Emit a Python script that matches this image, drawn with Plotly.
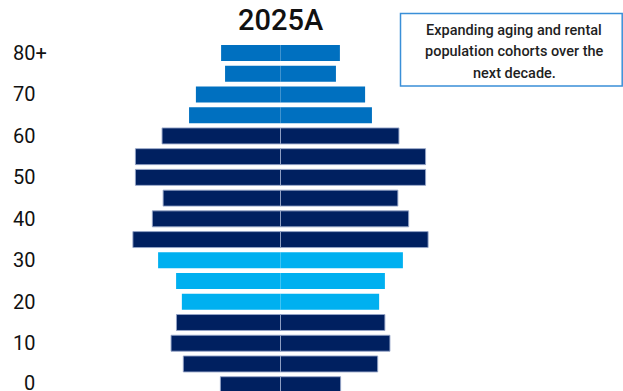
import plotly.graph_objects as go

# Age groups (index 0 = 0-4 ... 16 = 80+)
age_groups = ["0-4", "5-9", "10-14", "15-19", "20-24", "25-29", "30-34", "35-39",
              "40-44", "45-49", "50-54", "55-59", "60-64", "65-69", "70-74", "75-79", "80+"]
# Share of population (%) by side
left_values = [1.67, 2.70, 3.04, 2.89, 2.74, 2.90, 3.40, 4.10, 3.56, 3.26,
               4.03, 4.03, 3.29, 2.54, 2.35, 1.54, 1.65]
right_values = [1.67, 2.70, 3.04, 2.90, 2.74, 2.90, 3.40, 4.10, 3.56, 3.26,
                4.03, 4.03, 3.29, 2.54, 2.35, 1.54, 1.65]
# Cohort grouping for colour
cohort = ["core", "core", "core", "core", "rental", "rental", "rental", "core",
          "core", "core", "core", "core", "core", "aging", "aging", "aging", "aging"]
tick_positions = [0, 2, 4, 6, 8, 10, 12, 14, 16]
tick_labels = ["0", "10", "20", "30", "40", "50", "60", "70", "80+"]
title_text = "2025A"
note_lines = ["Expanding aging and rental", "population cohorts over the", "next decade."]

colors = {"core": "#002060", "rental": "#00B0F0", "aging": "#0070C0"}
bar_colors = [colors[c] for c in cohort]
line_widths = [1 if c == "core" else 0 for c in cohort]

ypos = list(range(len(age_groups)))

W, H = 623, 391
L, R, T, B = 60, 0, 35, 0
plot_w = W - L - R
plot_h = H - T - B
px_per_unit = 36.0
center_px = 280.5
x_min = -(center_px - L) / px_per_unit
x_max = (W - R - center_px) / px_per_unit


def px_x(px):
    return (px - L) / plot_w


def px_y(py):
    return (H - B - py) / plot_h


fig = go.Figure()
for vals, sign in ((left_values, -1), (right_values, 1)):
    fig.add_trace(go.Bar(
        y=ypos, x=[sign * v for v in vals], orientation="h",
        marker=dict(color=bar_colors,
                    line=dict(color="rgba(150,165,200,0.9)", width=line_widths)),
        showlegend=False, hoverinfo="skip",
    ))

fig.update_layout(
    width=W, height=H,
    margin=dict(l=L, r=R, t=T, b=B, pad=0),
    barmode="relative", bargap=0.23,
    plot_bgcolor="white", paper_bgcolor="white",
    xaxis=dict(range=[x_min, x_max], visible=False, fixedrange=True),
    yaxis=dict(range=[-0.304, 16.868], showticklabels=False, showgrid=False,
               zeroline=False, showline=False, ticks="", fixedrange=True),
)

# Y tick labels (right-aligned numbers, "+" hanging)
for pos, lab in zip(tick_positions, tick_labels):
    txt = lab if lab.endswith("+") else lab + "<span style='color:rgba(0,0,0,0)'>+</span>"
    fig.add_annotation(
        text=txt, xref="paper", x=px_x(48.5), xanchor="right",
        yref="y", y=pos, yanchor="middle", showarrow=False,
        yshift=2 if pos == 0 else 0,
        font=dict(family="Roboto, Liberation Sans, Arial", size=20, color="#111111"),
    )

fig.add_annotation(
    text=title_text, xref="x", x=0, yref="paper", y=1, yanchor="bottom",
    xanchor="center", showarrow=False, yshift=-4,
    font=dict(family="Roboto, Liberation Sans, Arial", size=29, color="#111111", weight=500),
)

# Note box
fig.add_shape(type="rect", xref="paper", yref="paper",
              x0=px_x(400.5), x1=px_x(622.2), y0=px_y(86), y1=px_y(13.5),
              line=dict(color="#3A8FD8", width=1.5), fillcolor="white", layer="above")
for i, line in enumerate(note_lines):
    fig.add_annotation(
        text=line, xref="paper", x=px_x(514), xanchor="center",
        yref="paper", y=px_y(30.5 + 21.5 * i), yanchor="middle", showarrow=False,
        font=dict(family="Roboto, Liberation Sans, Arial", size=14.5, color="#1f1f1f", weight=500),
    )

fig.write_html("out.html")
